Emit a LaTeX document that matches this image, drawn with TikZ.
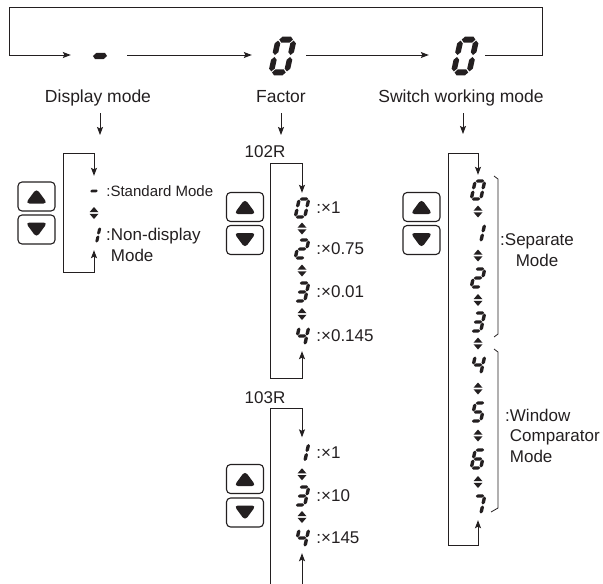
\documentclass[tikz,border=0pt]{standalone}
\usepackage{fontspec}
\setmainfont{Liberation Sans}
\usepackage{tikz}
\usetikzlibrary{arrows.meta,calc,positioning}
\definecolor{inkgrey}{RGB}{35,31,32}
\tikzset{
  flow/.style={-{Stealth[length=8pt,width=6pt,inset=1.5pt]},line width=0.9pt,draw=inkgrey},
  loopflow/.style={{Stealth[length=8pt,width=6pt,inset=1.5pt]}-{Stealth[length=8pt,width=6pt,inset=1.5pt]},
    line width=0.9pt,draw=inkgrey},
  drop/.style={flow,shorten <=7pt},
  slot/.style={minimum width=#1,minimum height=40,inner sep=0pt},
  digit/.style={minimum width=16,minimum height=30,inner sep=0pt},
  toplabel/.style={font=\fontsize{17.5}{21}\selectfont,text=inkgrey,inner sep=0pt,
    text depth=4pt,anchor=base},
  val/.style={font=\fontsize{17}{20.5}\selectfont,text=inkgrey,inner sep=0pt,align=left},
  keybox/.style={draw=inkgrey,line width=1.1pt,rounded corners=4pt,fill=white,
    minimum width=37,minimum height=29,inner sep=0pt},
  keyup/.style={keybox,path picture={\fill[inkgrey]
    ([shift={(-11pt,-7pt)}]path picture bounding box.center) -- ++(22pt,0pt) -- ++(-11pt,15pt) -- cycle;}},
  keydown/.style={keybox,path picture={\fill[inkgrey]
    ([shift={(-11pt,7pt)}]path picture bounding box.center) -- ++(22pt,0pt) -- ++(-11pt,-15pt) -- cycle;}},
  bracket/.style={line width=0.8pt,draw=inkgrey},
  updown/.pic={
    \fill[inkgrey] (-4.5,-0.8) -- (4.5,-0.8) -- (0,-6) -- cycle;
    \fill[inkgrey] (-4.5,0.8) -- (4.5,0.8) -- (0,6) -- cycle;}
}
% seven segment digits
\newcommand{\hseg}[1]{\fill (0.06,#1) -- (0.23,#1+0.18) -- (0.77,#1+0.18) -- (0.94,#1)
  -- (0.77,#1-0.18) -- (0.23,#1-0.18) -- cycle;}
\newcommand{\vseg}[2]{\fill (#1,#2+0.06) -- (#1+0.18,#2+0.23) -- (#1+0.18,#2+0.77) -- (#1,#2+0.94)
  -- (#1-0.18,#2+0.77) -- (#1-0.18,#2+0.23) -- cycle;}
\newcommand{\lcda}{\hseg{2}}
\newcommand{\lcdg}{\hseg{1}}
\newcommand{\lcdd}{\hseg{0}}
\newcommand{\lcdf}{\vseg{0}{1}}
\newcommand{\lcdb}{\vseg{1}{1}}
\newcommand{\lcde}{\vseg{0}{0}}
\newcommand{\lcdc}{\vseg{1}{0}}
\newcommand{\lcddigit}[4]{%
  \begin{scope}[shift={#1},x={(#2,0pt)},y={({0.22*#3},#3)},shift={(-0.5,-1)},fill=inkgrey]
    \foreach \sg in {#4}{\csname lcd\sg\endcsname}
  \end{scope}}

\begin{document}
\begin{tikzpicture}[x=1pt,y=-1pt]
  \useasboundingbox (0,0) rectangle (603,584);
  \clip (0,0) rectangle (603,584);

  % top loop
  \node[slot=56] (dispdash) at (99,55) {};
  \node[slot=54] (facdig) at (279,55) {};
  \node[slot=56] (swdig) at (457,55) {};
  \coordinate (loopR) at (542,7.5);
  \coordinate (loopL) at (9,7.5);
  \lcddigit{(100,56)}{16pt}{17pt}{g}
  \lcddigit{(282.5,56)}{15.6pt}{16.4pt}{a,b,c,d,e,f}
  \lcddigit{(465,56)}{15.6pt}{16.4pt}{a,b,c,d,e,f}
  \draw[flow] (swdig.east) -| (loopR) -- (loopL) |- (dispdash.west);
  \draw[flow] (dispdash.east) -- (facdig.west);
  \draw[flow] (facdig.east) -- (swdig.west);

  \node[toplabel] (lbldisp) at (98,102) {Display mode};
  \node[toplabel] (lblfac) at (281,102) {Factor};
  \node[toplabel] (lblsw) at (461,102) {Switch working mode};
  \coordinate (c1in) at (100,135);
  \coordinate (c2in) at (281,135);
  \coordinate (c3in) at (463,134);
  \draw[drop] (lbldisp.south -| c1in) -- (c1in);
  \draw[drop] (lblfac.south -| c2in) -- (c2in);
  \draw[drop] (lblsw.south -| c3in) -- (c3in);

  % display mode
  \node[keyup] (c1up) at (36.5,196.5) {};
  \node[keydown] (c1dn) at (36.5,229.5) {};
  \node[digit] (c1dash) at (94,191) {};
  \node[digit] (c1one) at (94,235) {};
  \lcddigit{(c1dash)}{8.5pt}{8pt}{g}
  \lcddigit{(c1one)}{8.5pt}{8pt}{b,c}
  \pic at ($(c1dash)!0.5!(c1one)$) {updown};
  \coordinate (c1tl) at (63,153);
  \coordinate (c1bl) at (63,272);
  \draw[loopflow] (c1dash.north) |- (c1tl) -- (c1bl) -| (c1one.south);
  \node[val,font=\fontsize{15}{18}\selectfont,right=4pt of c1dash] (c1std) {:Standard Mode};
  \node[val,anchor=base west] (c1non) at (106,261) {:Non-display\\\phantom{:}Mode};

  % factor 102R
  \node[val,anchor=base] (r102) at (265,157) {102R};
  \node[keyup] (c2up) at (245,207) {};
  \node[keydown] (c2dn) at (245,240) {};
  \node[digit] (c2d0) at (302,208) {};
  \node[digit] (c2d2) at (302,249) {};
  \node[digit] (c2d3) at (302,292) {};
  \node[digit] (c2d4) at (302,336) {};
  \lcddigit{(c2d0)}{9.5pt}{9pt}{a,b,c,d,e,f}
  \lcddigit{(c2d2)}{9.5pt}{9pt}{a,b,g,e,d}
  \lcddigit{(c2d3)}{9.5pt}{9pt}{a,b,g,c,d}
  \lcddigit{(c2d4)}{9.5pt}{9pt}{f,g,b,c}
  \pic at ($(c2d0)!0.5!(c2d2)$) {updown};
  \pic at ($(c2d2)!0.5!(c2d3)$) {updown};
  \pic at ($(c2d3)!0.5!(c2d4)$) {updown};
  \coordinate (c2tl) at (270,163);
  \coordinate (c2bl) at (270,378);
  \draw[loopflow] (c2d0.north) |- (c2tl) -- (c2bl) -| (c2d4.south);
  \node[val,right=6pt of c2d0] (v2a) {:×1};
  \node[val,right=6pt of c2d2] (v2b) {:×0.75};
  \node[val,right=6pt of c2d3] (v2c) {:×0.01};
  \node[val,right=6pt of c2d4] (v2d) {:×0.145};

  % factor 103R
  \node[val,anchor=base] (r103) at (265,403) {103R};
  \node[keyup] (c2up2) at (245,479) {};
  \node[keydown] (c2dn2) at (245,512.5) {};
  \node[digit] (c2e1) at (302,452.5) {};
  \node[digit] (c2e3) at (302,496) {};
  \node[digit] (c2e4) at (302,538) {};
  \lcddigit{(c2e1)}{9.5pt}{9pt}{b,c}
  \lcddigit{(c2e3)}{9.5pt}{9pt}{a,b,g,c,d}
  \lcddigit{(c2e4)}{9.5pt}{9pt}{f,g,b,c}
  \pic at ($(c2e1)!0.5!(c2e3)$) {updown};
  \pic at ($(c2e3)!0.5!(c2e4)$) {updown};
  \coordinate (c2tl2) at (270,408);
  \coordinate (c2bl2) at (270,600);
  \draw[loopflow] (c2e1.north) |- (c2tl2) -- (c2bl2) -| (c2e4.south);
  \node[val,right=6pt of c2e1] (v2e) {:×1};
  \node[val,right=6pt of c2e3] (v2f) {:×10};
  \node[val,right=6pt of c2e4] (v2g) {:×145};

  % switch working mode
  \node[keyup] (c3up) at (421.5,207) {};
  \node[keydown] (c3dn) at (421.5,240) {};
  \node[digit] (c3d0) at (478,190) {};
  \node[digit] (c3d1) at (478,233) {};
  \node[digit] (c3d2) at (478,278) {};
  \node[digit] (c3d3) at (478,322) {};
  \node[digit] (c3d4) at (478,365) {};
  \node[digit] (c3d5) at (478,412) {};
  \node[digit] (c3d6) at (478,459) {};
  \node[digit] (c3d7) at (478,505) {};
  \lcddigit{(c3d0)}{9.5pt}{9pt}{a,b,c,d,e,f}
  \lcddigit{(c3d1)}{9.5pt}{9pt}{b,c}
  \lcddigit{(c3d2)}{9.5pt}{9pt}{a,b,g,e,d}
  \lcddigit{(c3d3)}{9.5pt}{9pt}{a,b,g,c,d}
  \lcddigit{(c3d4)}{9.5pt}{9pt}{f,g,b,c}
  \lcddigit{(c3d5)}{9.5pt}{9pt}{a,f,g,c,d}
  \lcddigit{(c3d6)}{9.5pt}{9pt}{a,f,g,e,c,d}
  \lcddigit{(c3d7)}{9.5pt}{9pt}{a,b,c}
  \pic at ($(c3d0)!0.5!(c3d1)$) {updown};
  \pic at ($(c3d1)!0.5!(c3d2)$) {updown};
  \pic at ($(c3d2)!0.5!(c3d3)$) {updown};
  \pic at ($(c3d3)!0.5!(c3d4)$) {updown};
  \pic at ($(c3d4)!0.5!(c3d5)$) {updown};
  \pic at ($(c3d5)!0.5!(c3d6)$) {updown};
  \pic at ($(c3d6)!0.5!(c3d7)$) {updown};
  \coordinate (c3tl) at (448,153);
  \coordinate (c3bl) at (448,545);
  \draw[loopflow] (c3d0.north) |- (c3tl) -- (c3bl) -| (c3d7.south);
  \draw[bracket] (494,176) -- (498,179) -- (498,334) -- (494,337);
  \draw[bracket] (494,349) -- (498,352) -- (498,508) -- (491,512);
  \node[val,align=center,anchor=base west] (c3sep) at (500,266) {:Separate\\Mode};
  \node[val,anchor=base west] (c3win) at (505,462) {:Window\\\phantom{:}Comparator\\\phantom{:}Mode};
\end{tikzpicture}
\end{document}
